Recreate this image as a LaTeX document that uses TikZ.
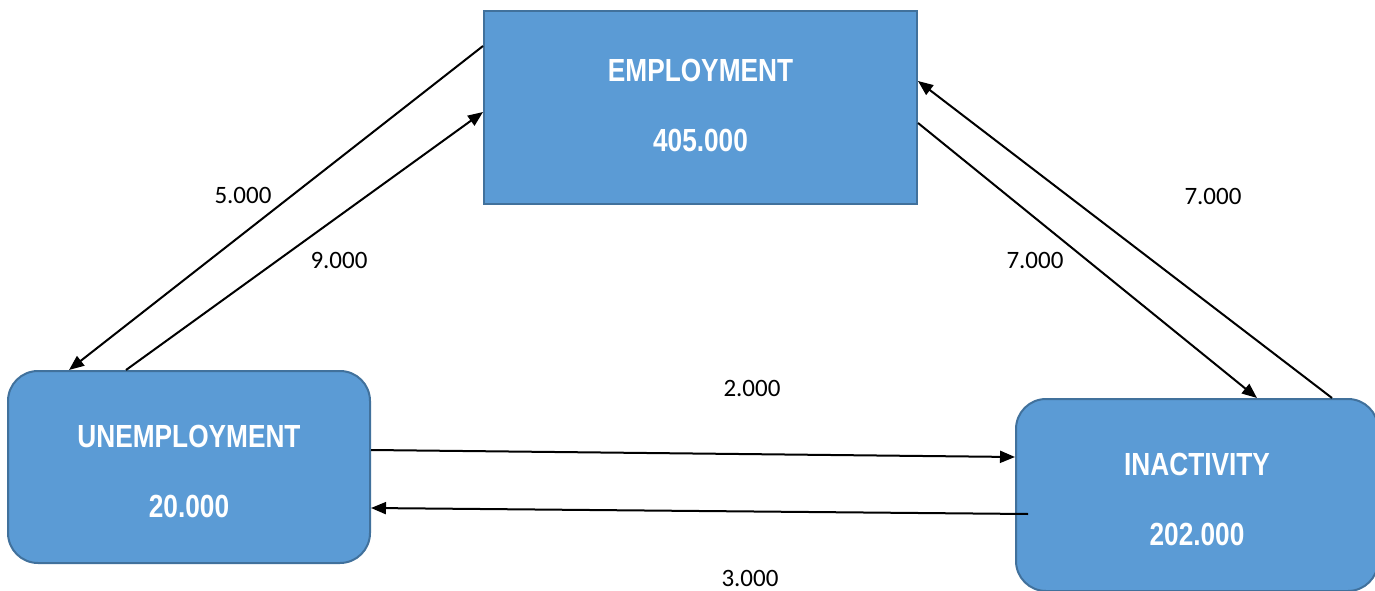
\documentclass[tikz,border=0pt]{standalone}
\usepackage{fontspec}
\setmainfont{Carlito}
\newfontfamily\boxfont[FakeStretch=0.82]{Liberation Sans}
\usetikzlibrary{arrows.meta,calc}
\definecolor{boxfill}{HTML}{5B9BD5}
\definecolor{boxline}{HTML}{41719C}
\tikzset{
  stateplain/.style={draw=boxline, line width=2pt, fill=boxfill, text=white,
    inner sep=0pt, align=center, font=\boxfont\bfseries\fontsize{32}{70}\selectfont},
  stateround/.style={stateplain, rounded corners=30pt},
  flow/.style={line width=2pt, -{Triangle[length=15pt,width=12pt]}},
  flowlabel/.style={font=\fontsize{25}{28}\selectfont, inner sep=0pt}
}
\begin{document}
\begin{tikzpicture}[x=1pt,y=1pt]
\useasboundingbox (0,0) rectangle (1375,590);
\node[stateplain, minimum width=433pt, minimum height=193pt] (emp) at (700.5,482.5) {EMPLOYMENT\\405.000\rule[-4pt]{0pt}{4pt}};
\node[stateround, minimum width=362pt, minimum height=192pt] (unemp) at (189,123) {\rule{0pt}{32pt}UNEMPLOYMENT\\20.000};
\node[stateround, minimum width=362pt, minimum height=192pt] (ina) at (1197,95) {\rule{0pt}{31pt}INACTIVITY\\202.000};

\draw[flow] ($(emp.north west)+(0,-36)$) -- ($(unemp.north west)+(62,0)$);
\draw[flow] ($(unemp.north west)+(119,0)$) -- ($(emp.north west)+(0,-102)$);
\draw[flow] ($(emp.north east)+(0,-113)$) -- ($(ina.north west)+(242,0)$);
\draw[flow] ($(ina.north west)+(317,0)$) -- ($(emp.north east)+(0,-71)$);
\draw[flow] ($(unemp.north east)+(0,-80)$) -- ($(ina.north west)+(0,-59)$);
\draw[flow] ($(ina.north west)+(13,-116)$) -- ($(unemp.north east)+(0,-138)$);

\node[flowlabel] (l1) at (243,395) {5.000};
\node[flowlabel] (l2) at (339,330) {9.000};
\node[flowlabel] (l3) at (1213,394) {7.000};
\node[flowlabel] (l4) at (1035,330) {7.000};
\node[flowlabel] (l5) at (752,202) {2.000};
\node[flowlabel] (l6) at (750,12) {3.000};
\end{tikzpicture}
\end{document}
